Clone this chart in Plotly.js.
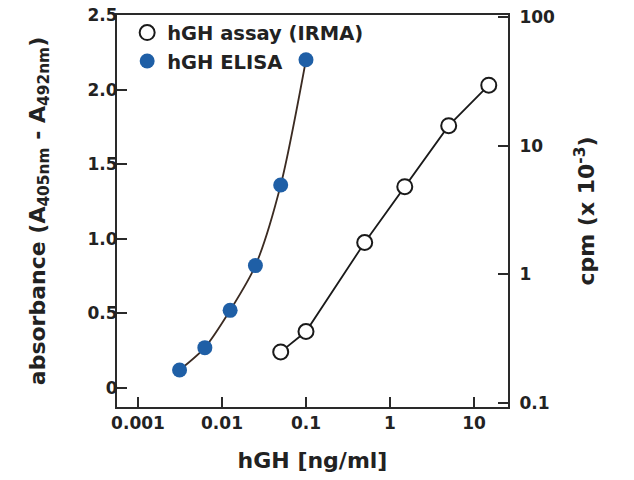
<!DOCTYPE html>
<html>
<head>
<meta charset="utf-8">
<script src="https://cdn.plot.ly/plotly-3.0.1.min.js"></script>
<style>html,body{margin:0;padding:0;background:#fff;}#chart{width:634px;height:480px;}</style>
</head>
<body>
<div id="chart"></div>
<script>
// ELISA (left axis, absorbance)
const elisaConc = [0.003125, 0.00625, 0.0125, 0.025, 0.05, 0.1];
const elisaAbs = [0.12, 0.27, 0.52, 0.82, 1.36, 2.20];
// IRMA (right axis, cpm x 10^-3)
const irmaConc = [0.05, 0.1, 0.5, 1.5, 5, 15];
const irmaCpm = [0.25, 0.36, 1.77, 4.8, 14.3, 29.5];
// tick labels
const xTickVals = [0.001, 0.01, 0.1, 1, 10];
const xTickText = ["0.001", "0.01", "0.1", "1", "10"];
const yTickVals = [0, 0.5, 1.0, 1.5, 2.0, 2.5];
const yTickText = ["0", "0.5", "1.0", "1.5", "2.0", "2.5"];
const y2TickVals = [0.1, 1, 10, 100];
const y2TickText = ["0.1", "1", "10", "100"];

const FONT = "DejaVu Sans, Verdana, sans-serif";
const AX = "#2a2a2a";

const traces = [
  {x: irmaConc, y: irmaCpm, yaxis: 'y2', mode: 'lines', showlegend: false,
   line: {color: '#1a1a1a', width: 1.8}, hoverinfo: 'skip'},
  {x: elisaConc, y: elisaAbs, yaxis: 'y', mode: 'lines', showlegend: false,
   line: {color: '#3b2b22', width: 1.8, shape: 'spline', smoothing: 0.8}, hoverinfo: 'skip'},
  {x: irmaConc, y: irmaCpm, yaxis: 'y2', mode: 'markers', name: 'hGH assay (IRMA)',
   marker: {symbol: 'circle', size: 15, color: '#ffffff', line: {color: '#1a1a1a', width: 2}}},
  {x: elisaConc, y: elisaAbs, yaxis: 'y', mode: 'markers', name: 'hGH ELISA',
   marker: {symbol: 'circle', size: 15, color: '#1f5fa6', line: {color: '#1f5fa6', width: 0}}}
];

const layout = {
  width: 634, height: 480,
  margin: {l: 117, r: 126, t: 15, b: 73},
  paper_bgcolor: '#fff', plot_bgcolor: '#fff',
  font: {family: FONT, size: 17, color: '#222'},
  showlegend: true,
  legend: {x: 0.026, y: 1.004, xanchor: 'left', yanchor: 'top', bgcolor: 'rgba(0,0,0,0)',
           font: {family: FONT, size: 19.5, color: '#222', weight: 'bold'}, itemwidth: 30, tracegroupgap: 0},
  xaxis: {type: 'log', range: [-3.25, 1.405], tickvals: xTickVals, ticktext: xTickText,
          ticks: 'inside', ticklen: 10, tickwidth: 2, tickcolor: AX,
          showline: true, linewidth: 2, linecolor: AX, mirror: true,
          showgrid: false, zeroline: false,
          tickfont: {family: FONT, size: 17, color: '#222', weight: 'bold'},
          title: {text: 'hGH [ng/ml]', font: {family: FONT, size: 22, color: '#222', weight: 'bold'}, standoff: 20}},
  yaxis: {range: [-0.128, 2.5], tickvals: yTickVals, ticktext: yTickText,
          ticks: 'inside', ticklen: 10, tickwidth: 2, tickcolor: AX,
          showline: true, linewidth: 2, linecolor: AX,
          showgrid: false, zeroline: false, ticklabelstandoff: -6,
          tickfont: {family: FONT, size: 17, color: '#222', weight: 'bold'},
          title: {text: 'absorbance (A<sub>405nm</sub> - A<sub>492nm</sub>)', font: {family: FONT, size: 22, color: '#222', weight: 'bold'}, standoff: 36}},
  yaxis2: {type: 'log', range: [-1.03, 2.015], tickvals: y2TickVals, ticktext: y2TickText,
           overlaying: 'y', side: 'right',
           ticks: 'inside', ticklen: 10, tickwidth: 2, tickcolor: AX,
           showline: true, linewidth: 2, linecolor: AX,
           showgrid: false, zeroline: false, ticklabelstandoff: 6,
           tickfont: {family: FONT, size: 17, color: '#222', weight: 'bold'},
           title: {text: 'cpm (x 10<sup>-3</sup>)', font: {family: FONT, size: 22, color: '#222', weight: 'bold'}, standoff: 25}}
};

Plotly.newPlot('chart', traces, layout, {displayModeBar: false, staticPlot: true});
</script>
</body>
</html>
